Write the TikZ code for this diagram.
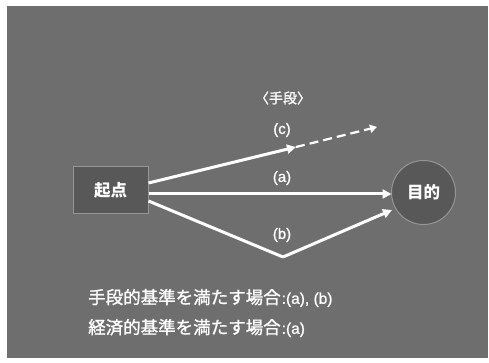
\documentclass[tikz,border=0pt]{standalone}
\usepackage{fontspec}
\setmainfont{Noto Sans CJK JP}
\newfontfamily\jpfont[FakeBold=1.2]{Noto Sans CJK JP}
\newfontfamily\latinfont[FakeBold=1]{Liberation Sans}
\usetikzlibrary{arrows.meta}
\definecolor{bg}{RGB}{110,110,110}
\definecolor{boxfill}{RGB}{88,88,88}
\definecolor{edgegray}{RGB}{150,150,150}
\begin{document}
\begin{tikzpicture}[x=1pt,y=-1pt,
  lbl/.style={text=white,font=\latinfont\fontsize{15}{17}\selectfont,inner sep=0pt},
  jp/.style={text=white,font=\jpfont\fontsize{17.5}{20}\selectfont,inner sep=0pt},
  conn/.style={draw=white,line width=3pt,-{Triangle[length=9pt,width=9pt]}},
  dconn/.style={draw=white,line width=2.2pt,dash pattern=on 9pt off 5pt,-{Triangle[length=7pt,width=8pt]}}]
\useasboundingbox (0,0) rectangle (489,363);
\fill[white] (0,0) rectangle (489,363);
\fill[bg] (7,6) rectangle (488,358);
\node[draw=edgegray,fill=boxfill,line width=1pt,minimum width=75pt,minimum height=46pt,inner sep=0pt,text=white,font=\bfseries\fontsize{16.5}{18}\selectfont] (start) at (110.5,190) {起点};
\node[circle,draw=edgegray,fill=boxfill,line width=1pt,minimum size=64pt,inner sep=0pt,text=white,font=\bfseries\fontsize{16.5}{18}\selectfont] (goal) at (423.5,192.5) {目的};
\coordinate (cmid) at (296,147);
\coordinate (cend) at (377,127);
\coordinate (bmid) at (283,257);
\coordinate (sc) at (148.5,183);
\coordinate (sa) at (148.5,194);
\coordinate (sb) at (148.5,201);
\coordinate (ga) at (391.5,194);
\coordinate (gb) at (392,210);
\draw[conn] (sc) -- (cmid);
\draw[dconn] (cmid) -- (cend);
\draw[conn] (sa) -- (ga);
\draw[draw=white,line width=3pt,line join=miter] (sb) -- (bmid);
\draw[conn] (bmid) -- (gb);
\node[text=white,inner sep=0pt,font=\jpfont\fontsize{14}{16}\selectfont] (means) at (283,98) {〈手段〉};
\node[lbl] (lc) at (282,130) {(c)};
\node[lbl] (la) at (282,178) {(a)};
\node[lbl] (lb) at (282,235) {(b)};
\node[jp,anchor=west] (t1) at (88,298) {手段的基準を満たす場合{\latinfont\fontsize{15.5}{18}\selectfont\kern1pt:(a), (b)}};
\node[jp,anchor=west] (t2) at (88,328) {経済的基準を満たす場合{\latinfont\fontsize{15.5}{18}\selectfont\kern1pt:(a)}};
\end{tikzpicture}
\end{document}
